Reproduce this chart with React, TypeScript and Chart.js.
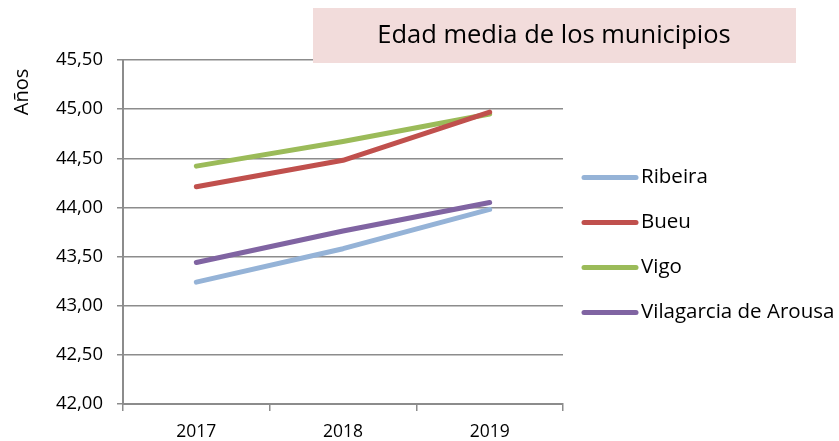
import React, { useEffect, useRef } from "react";
import { Chart, registerables } from "chart.js";

Chart.register(...registerables);

const categories = ["2017", "2018", "2019"];
const seriesNames = ["Ribeira", "Bueu", "Vigo", "Vilagarcia de Arousa"];
const ribeira = [43.24, 43.58, 43.98];
const bueu = [44.21, 44.48, 44.97];
const vigo = [44.42, 44.67, 44.95];
const vilagarcia = [43.44, 43.76, 44.05];
const seriesColors = ["#95B3D7", "#C0504D", "#9BBB59", "#8064A2"];
const yMin = 42;
const yMax = 45.5;
const yStep = 0.5;
const titleText = "Edad media de los municipios";
const yAxisTitle = "Años";

const FONT = "'Open Sans', 'Noto Sans', sans-serif";
const GRID = "#8c8c8c";

const overlayPlugin = {
  id: "overlay",
  afterDraw(chart: any) {
    const ctx = chart.ctx;
    ctx.save();
    // Title box
    ctx.fillStyle = "#F2DCDB";
    ctx.fillRect(313, 8, 483, 55);
    ctx.fillStyle = "#000";
    ctx.font = `25.5px ${FONT}`;
    ctx.textAlign = "center";
    ctx.textBaseline = "middle";
    ctx.fillText(titleText, 554, 36);

    // Y axis title
    ctx.save();
    ctx.translate(22, 92);
    ctx.rotate(-Math.PI / 2);
    ctx.font = `20px ${FONT}`;
    ctx.fillText(yAxisTitle, 0, 0);
    ctx.restore();

    // Legend
    chart.data.datasets.forEach((ds: any, i: number) => {
      const y = 177.5 + 45 * i;
      ctx.strokeStyle = ds.borderColor;
      ctx.lineWidth = 5;
      ctx.lineCap = "round";
      ctx.beginPath();
      ctx.moveTo(584, y);
      ctx.lineTo(636, y);
      ctx.stroke();
      ctx.fillStyle = "#000";
      ctx.font = `20.5px ${FONT}`;
      ctx.textAlign = "left";
      ctx.textBaseline = "middle";
      ctx.fillText(ds.label, 641, y);
    });
    ctx.restore();
  },
};

export default function App() {
  const ref = useRef<HTMLCanvasElement>(null);
  useEffect(() => {
    const seriesData = [ribeira, bueu, vigo, vilagarcia];
    const chart = new Chart(ref.current!, {
      type: "line",
      data: {
        labels: categories,
        datasets: seriesNames.map((name, i) => ({
          label: name,
          data: seriesData[i],
          borderColor: seriesColors[i],
          backgroundColor: seriesColors[i],
          borderWidth: 5,
          borderCapStyle: "round",
          borderJoinStyle: "round",
          pointRadius: 0,
          tension: 0,
        })),
      },
      options: {
        responsive: false,
        animation: false,
        devicePixelRatio: 1,
        layout: { padding: { left: 0, top: 60, right: 276, bottom: 0 } },
        plugins: {
          legend: { display: false },
          title: { display: false },
          tooltip: { enabled: false },
        },
        scales: {
          x: {
            type: "category",
            offset: true,
            afterFit: (s: any) => {
              s.height = 37;
            },
            grid: {
              offset: true,
              drawOnChartArea: false,
              drawTicks: true,
              tickLength: 7,
              color: GRID,
              lineWidth: 1.5,
            },
            border: { display: true, color: GRID, width: 2 },
            ticks: {
              color: "#000",
              font: { family: FONT, size: 17.5 },
              padding: 11,
              maxRotation: 0,
            },
          },
          y: {
            min: yMin,
            max: yMax,
            afterFit: (s: any) => {
              s.width = 123;
            },
            grid: {
              color: GRID,
              lineWidth: 1.5,
              tickLength: 6,
              drawTicks: true,
            },
            border: { display: true, color: GRID, width: 2 },
            ticks: {
              stepSize: yStep,
              color: "#000",
              font: { family: FONT, size: 18.5 },
              padding: 14,
              callback: (v: any) => Number(v).toFixed(2).replace(".", ","),
            },
          },
        },
      },
      plugins: [overlayPlugin],
    } as any);
    return () => chart.destroy();
  }, []);
  return (
    <div style={{ position: "absolute", left: 0, top: 0, width: 839, height: 441, background: "#fff" }}>
      <canvas ref={ref} width={839} height={441} style={{ display: "block" }} />
    </div>
  );
}
